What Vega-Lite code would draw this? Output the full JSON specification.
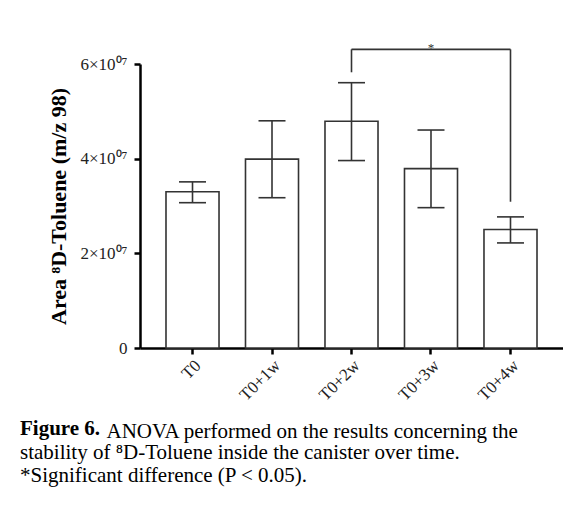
{
  "$schema": "https://vega.github.io/schema/vega-lite/v6.json",
  "autosize": {"type": "none"},
  "padding": {"left": 140, "top": 64, "right": 0, "bottom": 167},
  "width": 423,
  "height": 284,
  "background": "white",
  "config": {
    "view": {"stroke": null},
    "font": "Liberation Serif"
  },
  "title": {
    "text": "Figure 6.",
    "subtitle": ["stability of \u2078D-Toluene inside the canister over time.", "*Significant difference (P < 0.05)."],
    "orient": "bottom",
    "anchor": "start",
    "frame": "group",
    "dx": -120,
    "offset": -23,
    "font": "Liberation Serif",
    "fontSize": 21,
    "fontWeight": "bold",
    "color": "black",
    "subtitleFont": "Liberation Serif",
    "subtitleFontSize": 21,
    "subtitleColor": "black",
    "subtitleLineHeight": 22.5,
    "subtitlePadding": 3
  },
  "datasets": {
    "bars": [
      {"time": "T0", "mean": 33000000, "lo": 30700000, "hi": 35100000},
      {"time": "T0+1w", "mean": 39900000, "lo": 31750000, "hi": 48000000},
      {"time": "T0+2w", "mean": 47900000, "lo": 39600000, "hi": 56050000},
      {"time": "T0+3w", "mean": 37900000, "lo": 29650000, "hi": 46050000},
      {"time": "T0+4w", "mean": 25050000, "lo": 22200000, "hi": 27700000}
    ],
    "sig": [
      {"from": "T0+2w", "to": "T0+4w", "mid": "T0+3w", "top": 63100000, "leftEnd": 58250000, "rightEnd": 30900000, "label": "*"}
    ]
  },
  "layer": [
    {
      "data": {"name": "bars"},
      "mark": {"type": "bar", "fill": "white", "stroke": "#333333", "strokeWidth": 1.6},
      "encoding": {
        "x": {
          "field": "time", "type": "nominal", "sort": null,
          "scale": {"paddingInner": 0.333, "paddingOuter": 0.327},
          "axis": {
            "title": "ANOVA performed on the results concerning the",
            "titleFont": "Liberation Serif",
            "titleFontSize": 21,
            "titleFontWeight": "normal",
            "titleColor": "black",
            "titleX": -34,
            "titleY": 89,
            "titleAlign": "left",
            "titleBaseline": "alphabetic",
            "titleAnchor": "start",
            "labelAngle": -45,
            "labelAlign": "right",
            "labelBaseline": "top",
            "labelPadding": 3,
            "labelFont": "Liberation Serif",
            "labelFontSize": 17,
            "labelColor": "#222222",
            "domainColor": "black",
            "domainWidth": 2.5,
            "tickColor": "black",
            "tickWidth": 2.5,
            "tickSize": 6
          }
        },
        "y": {
          "field": "mean", "type": "quantitative",
          "scale": {"domain": [0, 60000000], "nice": false},
          "axis": {
            "title": "Area \u2078D-Toluene (m/z 98)",
            "titleFont": "Liberation Serif",
            "titleFontSize": 22,
            "titleFontWeight": "bold",
            "titleColor": "black",
            "titlePadding": 9,
            "values": [0, 20000000, 40000000, 60000000],
            "labelExpr": "datum.value == 0 ? '0' : (datum.value / 10000000) + '\u00d710\u2070\u2077'",
            "labelFont": "Liberation Serif",
            "labelFontSize": 17,
            "labelColor": "#222222",
            "labelPadding": 7,
            "grid": false,
            "domainColor": "black",
            "domainWidth": 2.5,
            "tickColor": "black",
            "tickWidth": 2.5,
            "tickSize": 6
          }
        }
      }
    },
    {
      "data": {"name": "bars"},
      "mark": {"type": "rule", "stroke": "#333333", "strokeWidth": 1.6},
      "encoding": {
        "x": {"field": "time", "type": "nominal", "sort": null},
        "y": {"field": "lo", "type": "quantitative"},
        "y2": {"field": "hi"}
      }
    },
    {
      "data": {"name": "bars"},
      "mark": {"type": "tick", "orient": "horizontal", "color": "#333333", "size": 27, "thickness": 1.6, "opacity": 1},
      "encoding": {
        "x": {"field": "time", "type": "nominal", "sort": null},
        "y": {"field": "lo", "type": "quantitative"}
      }
    },
    {
      "data": {"name": "bars"},
      "mark": {"type": "tick", "orient": "horizontal", "color": "#333333", "size": 27, "thickness": 1.6, "opacity": 1},
      "encoding": {
        "x": {"field": "time", "type": "nominal", "sort": null},
        "y": {"field": "hi", "type": "quantitative"}
      }
    },
    {
      "data": {"name": "sig"},
      "mark": {"type": "rule", "stroke": "#333333", "strokeWidth": 1.6},
      "encoding": {
        "x": {"field": "from", "type": "nominal", "sort": null},
        "x2": {"field": "to"},
        "y": {"field": "top", "type": "quantitative"}
      }
    },
    {
      "data": {"name": "sig"},
      "mark": {"type": "rule", "stroke": "#333333", "strokeWidth": 1.6},
      "encoding": {
        "x": {"field": "from", "type": "nominal", "sort": null},
        "y": {"field": "top", "type": "quantitative"},
        "y2": {"field": "leftEnd"}
      }
    },
    {
      "data": {"name": "sig"},
      "mark": {"type": "rule", "stroke": "#333333", "strokeWidth": 1.6},
      "encoding": {
        "x": {"field": "to", "type": "nominal", "sort": null},
        "y": {"field": "top", "type": "quantitative"},
        "y2": {"field": "rightEnd"}
      }
    },
    {
      "data": {"name": "sig"},
      "mark": {"type": "text", "font": "Liberation Serif", "fontSize": 13, "color": "#333333", "baseline": "alphabetic", "dy": 3},
      "encoding": {
        "x": {"field": "mid", "type": "nominal", "sort": null},
        "y": {"field": "top", "type": "quantitative"},
        "text": {"field": "label"}
      }
    }
  ]
}
